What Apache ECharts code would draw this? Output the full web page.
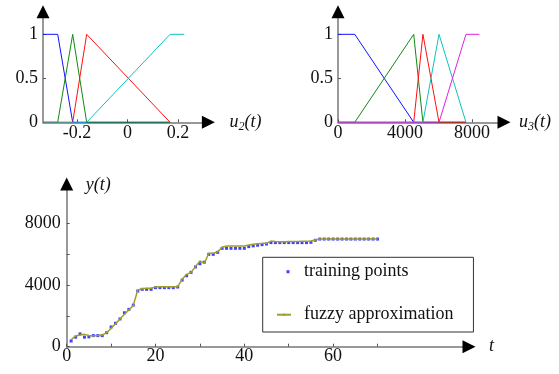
<!DOCTYPE html>
<html>
<head>
<meta charset="utf-8">
<script src="https://cdn.jsdelivr.net/npm/echarts@6/dist/echarts.min.js"></script>
<style>
    html, body { margin: 0; padding: 0; background: #fff; }
    #chart { width: 559px; height: 374px; }
</style>
</head>
<body>
<div id="chart"></div>
<script>

// membership functions of u2(t): breakpoints and grades (null = not drawn)
var u2Breaks = [-0.335, -0.277, -0.2175, -0.162, 0.169, 0.225];
var u2Blue = [1, 1, 0, 0, 0, null];
var u2Green = [0, 0, 1, 0, 0, null];
var u2Red = [0, 0, 0, 1, 0, null];
var u2Cyan = [0, 0, 0, 0, 1, 1];

// membership functions of u3(t)
var u3Breaks = [0, 1000, 4520, 5070, 6030, 7640, 8440];
var u3Blue = [1, 1, 0, 0, 0, 0, null];
var u3Green = [0, 0, 1, 0, 0, 0, null];
var u3Red = [0, 0, 0, 1, 0, 0, null];
var u3Cyan = [0, 0, 0, 0, 1, 0, null];
var u3Magenta = [0, 0, 0, 0, 0, 1, 1];

// y(t) for t = 1..70
var trainingPoints = [
    370, 620, 830, 620, 640, 720, 720, 720, 910, 1280,
    1520, 1800, 2200, 2420, 2700, 3610, 3720, 3720, 3720, 3830,
    3830, 3830, 3830, 3830, 3870, 4320, 4600, 4820, 5170, 5380,
    5480, 5990, 5990, 6120, 6380, 6380, 6380, 6380, 6380, 6380,
    6490, 6540, 6580, 6620, 6660, 6750, 6750, 6750, 6750, 6750,
    6750, 6750, 6750, 6750, 6770, 6900, 6980, 6980, 6980, 6980,
    6980, 6980, 6980, 6980, 6980, 6980, 6980, 6980, 6980, 6980
];
var fuzzyApprox = [
    450, 700, 760, 800, 720, 700, 720, 760, 910, 1190,
    1490, 1800, 2100, 2380, 2680, 3680, 3760, 3790, 3790, 3870,
    3890, 3890, 3890, 3890, 3890, 4370, 4690, 4820, 5190, 5560,
    5410, 6060, 6060, 6160, 6450, 6530, 6530, 6530, 6530, 6530,
    6600, 6640, 6670, 6700, 6700, 6850, 6820, 6810, 6810, 6820,
    6820, 6820, 6830, 6830, 6850, 6920, 6980, 6980, 6980, 6980,
    6980, 6980, 6980, 6980, 6980, 6980, 6980, 6980, 6980, 6980
];

var u2Labels = [-0.2, 0, 0.2];
var u3Labels = [0, 4000, 8000];
var gradeLabels = [0, 0.5, 1];
var tLabels = [0, 20, 40, 60];
var tTicks = [0, 10, 20, 30, 40, 50, 60, 70];
var yLabels = [0, 4000, 8000];
var yTicks = [0, 2000, 4000, 6000, 8000];

var FONT = 'Liberation Serif';

function pairs(xs, ys) {
    var data = [];
    for (var i = 0; i < xs.length; ++i) {
        if (ys[i] !== null) {
            data.push([xs[i], ys[i]]);
        }
    }
    return data;
}

function baseAxis(gridIndex, pos, min, max, labels, ticks, margin) {
    return {
        type: 'value',
        gridIndex: gridIndex,
        position: pos,
        min: min,
        max: max,
        axisLine: {show: true, onZero: false, lineStyle: {color: '#777', width: 1.5}},
        axisTick: {
            show: true, inside: true, length: 3, customValues: ticks,
            lineStyle: {color: '#555', width: 1}
        },
        axisLabel: {
            customValues: labels, fontFamily: FONT, fontSize: 18,
            color: '#111', margin: margin,
            formatter: function (v) { return String(v); }
        },
        splitLine: {show: false}
    };
}

// same extent, only the black arrow head (and the axis title)
function arrowAxis(gridIndex, pos, min, max, name, nameGap, nameStyle) {
    return {
        type: 'value',
        gridIndex: gridIndex,
        position: pos,
        min: min,
        max: max,
        name: name,
        nameGap: nameGap,
        nameLocation: 'end',
        nameTextStyle: nameStyle,
        axisLine: {
            show: true, onZero: false,
            symbol: ['none', 'triangle'], symbolSize: [13, 13],
            lineStyle: {color: '#000', width: 0}
        },
        axisTick: {show: false},
        axisLabel: {show: false},
        splitLine: {show: false}
    };
}

var richName = {
    i: {fontFamily: FONT, fontStyle: 'italic', fontSize: 18, color: '#111'},
    s: {fontFamily: FONT, fontStyle: 'italic', fontSize: 12, color: '#111', padding: [10, 0, 0, 0]}
};

function mfLine(xi, data, color) {
    return {
        type: 'line', xAxisIndex: xi, yAxisIndex: xi,
        data: data, showSymbol: false, symbol: 'none',
        lineStyle: {color: color, width: 1}, itemStyle: {color: color},
        silent: true
    };
}

var chart = echarts.init(document.getElementById('chart'));
chart.setOption({
    animation: false,
    backgroundColor: '#fff',
    grid: [
        {left: 43, top: 11.7, width: 165.4, height: 110.6, outerBoundsMode: 'none'},
        {left: 338, top: 11.7, width: 166, height: 110.6, outerBoundsMode: 'none'},
        {left: 66.7, top: 184, width: 402.3, height: 162.7, outerBoundsMode: 'none'}
    ],
    xAxis: [
        baseAxis(0, 'bottom', -0.3353, 0.321, u2Labels, u2Labels, 2),
        baseAxis(1, 'bottom', 0, 9910, u3Labels, u3Labels, 2),
        baseAxis(2, 'bottom', 0, 90.6, tLabels, tTicks, 1),
        arrowAxis(0, 'bottom', -0.3353, 0.321, '{i|u}{s|2}{i|(t)}', 21, {rich: richName}),
        arrowAxis(1, 'bottom', 0, 9910, '{i|u}{s|3}{i|(t)}', 15, {rich: richName}),
        arrowAxis(2, 'bottom', 0, 90.6, '{i|t}', 20, {rich: richName})
    ],
    yAxis: [
        baseAxis(0, 'left', 0, 1.257, gradeLabels, gradeLabels, 5),
        baseAxis(1, 'left', 0, 1.257, gradeLabels, gradeLabels, 5),
        baseAxis(2, 'left', 0, 10550, yLabels, yTicks, 6),
        arrowAxis(0, 'left', 0, 1.257, '', 0, {}),
        arrowAxis(1, 'left', 0, 1.257, '', 0, {}),
        arrowAxis(2, 'left', 0, 10550, '{i|y(t)}', -1, {
            rich: richName, align: 'left', verticalAlign: 'middle', padding: [0, 0, 0, 19]
        })
    ],
    legend: {
        left: 262.7,
        top: 257.3,
        orient: 'vertical',
        itemWidth: 14,
        itemHeight: 3,
        itemGap: 25,
        padding: [5.4, 20, 8.3, 13.3],
        borderColor: '#333',
        borderWidth: 1,
        backgroundColor: '#fff',
        textStyle: {fontFamily: FONT, fontSize: 18, color: '#111', padding: [0, 0, 0, 8]},
        data: [
            {name: 'training points', icon: 'path://M0,0M14,3M9.5,0h3v3h-3z'},
            {name: 'fuzzy approximation'}
        ]
    },
    series: [
        mfLine(0, pairs(u2Breaks, u2Blue), '#1010ff'),
        mfLine(0, pairs(u2Breaks, u2Green), '#108a10'),
        mfLine(0, pairs(u2Breaks, u2Red), '#ff1010'),
        mfLine(0, pairs(u2Breaks, u2Cyan), '#10c0c0'),
        mfLine(1, pairs(u3Breaks, u3Blue), '#1010ff'),
        mfLine(1, pairs(u3Breaks, u3Green), '#108a10'),
        mfLine(1, pairs(u3Breaks, u3Red), '#ff1010'),
        mfLine(1, pairs(u3Breaks, u3Cyan), '#10c0c0'),
        mfLine(1, pairs(u3Breaks, u3Magenta), '#e020e0'),
        {
            name: 'fuzzy approximation',
            type: 'line', xAxisIndex: 2, yAxisIndex: 2,
            data: fuzzyApprox.map(function (v, i) { return [i + 1, v]; }),
            showSymbol: false, symbol: 'none',
            lineStyle: {color: '#a0a028', width: 1.5},
            itemStyle: {color: '#a0a028'}
        },
        {
            name: 'training points',
            type: 'scatter', xAxisIndex: 2, yAxisIndex: 2,
            data: trainingPoints.map(function (v, i) { return [i + 1, v]; }),
            symbol: 'rect', symbolSize: 3,
            itemStyle: {color: '#1010ff'}
        }
    ]
});

</script>
</body>
</html>
